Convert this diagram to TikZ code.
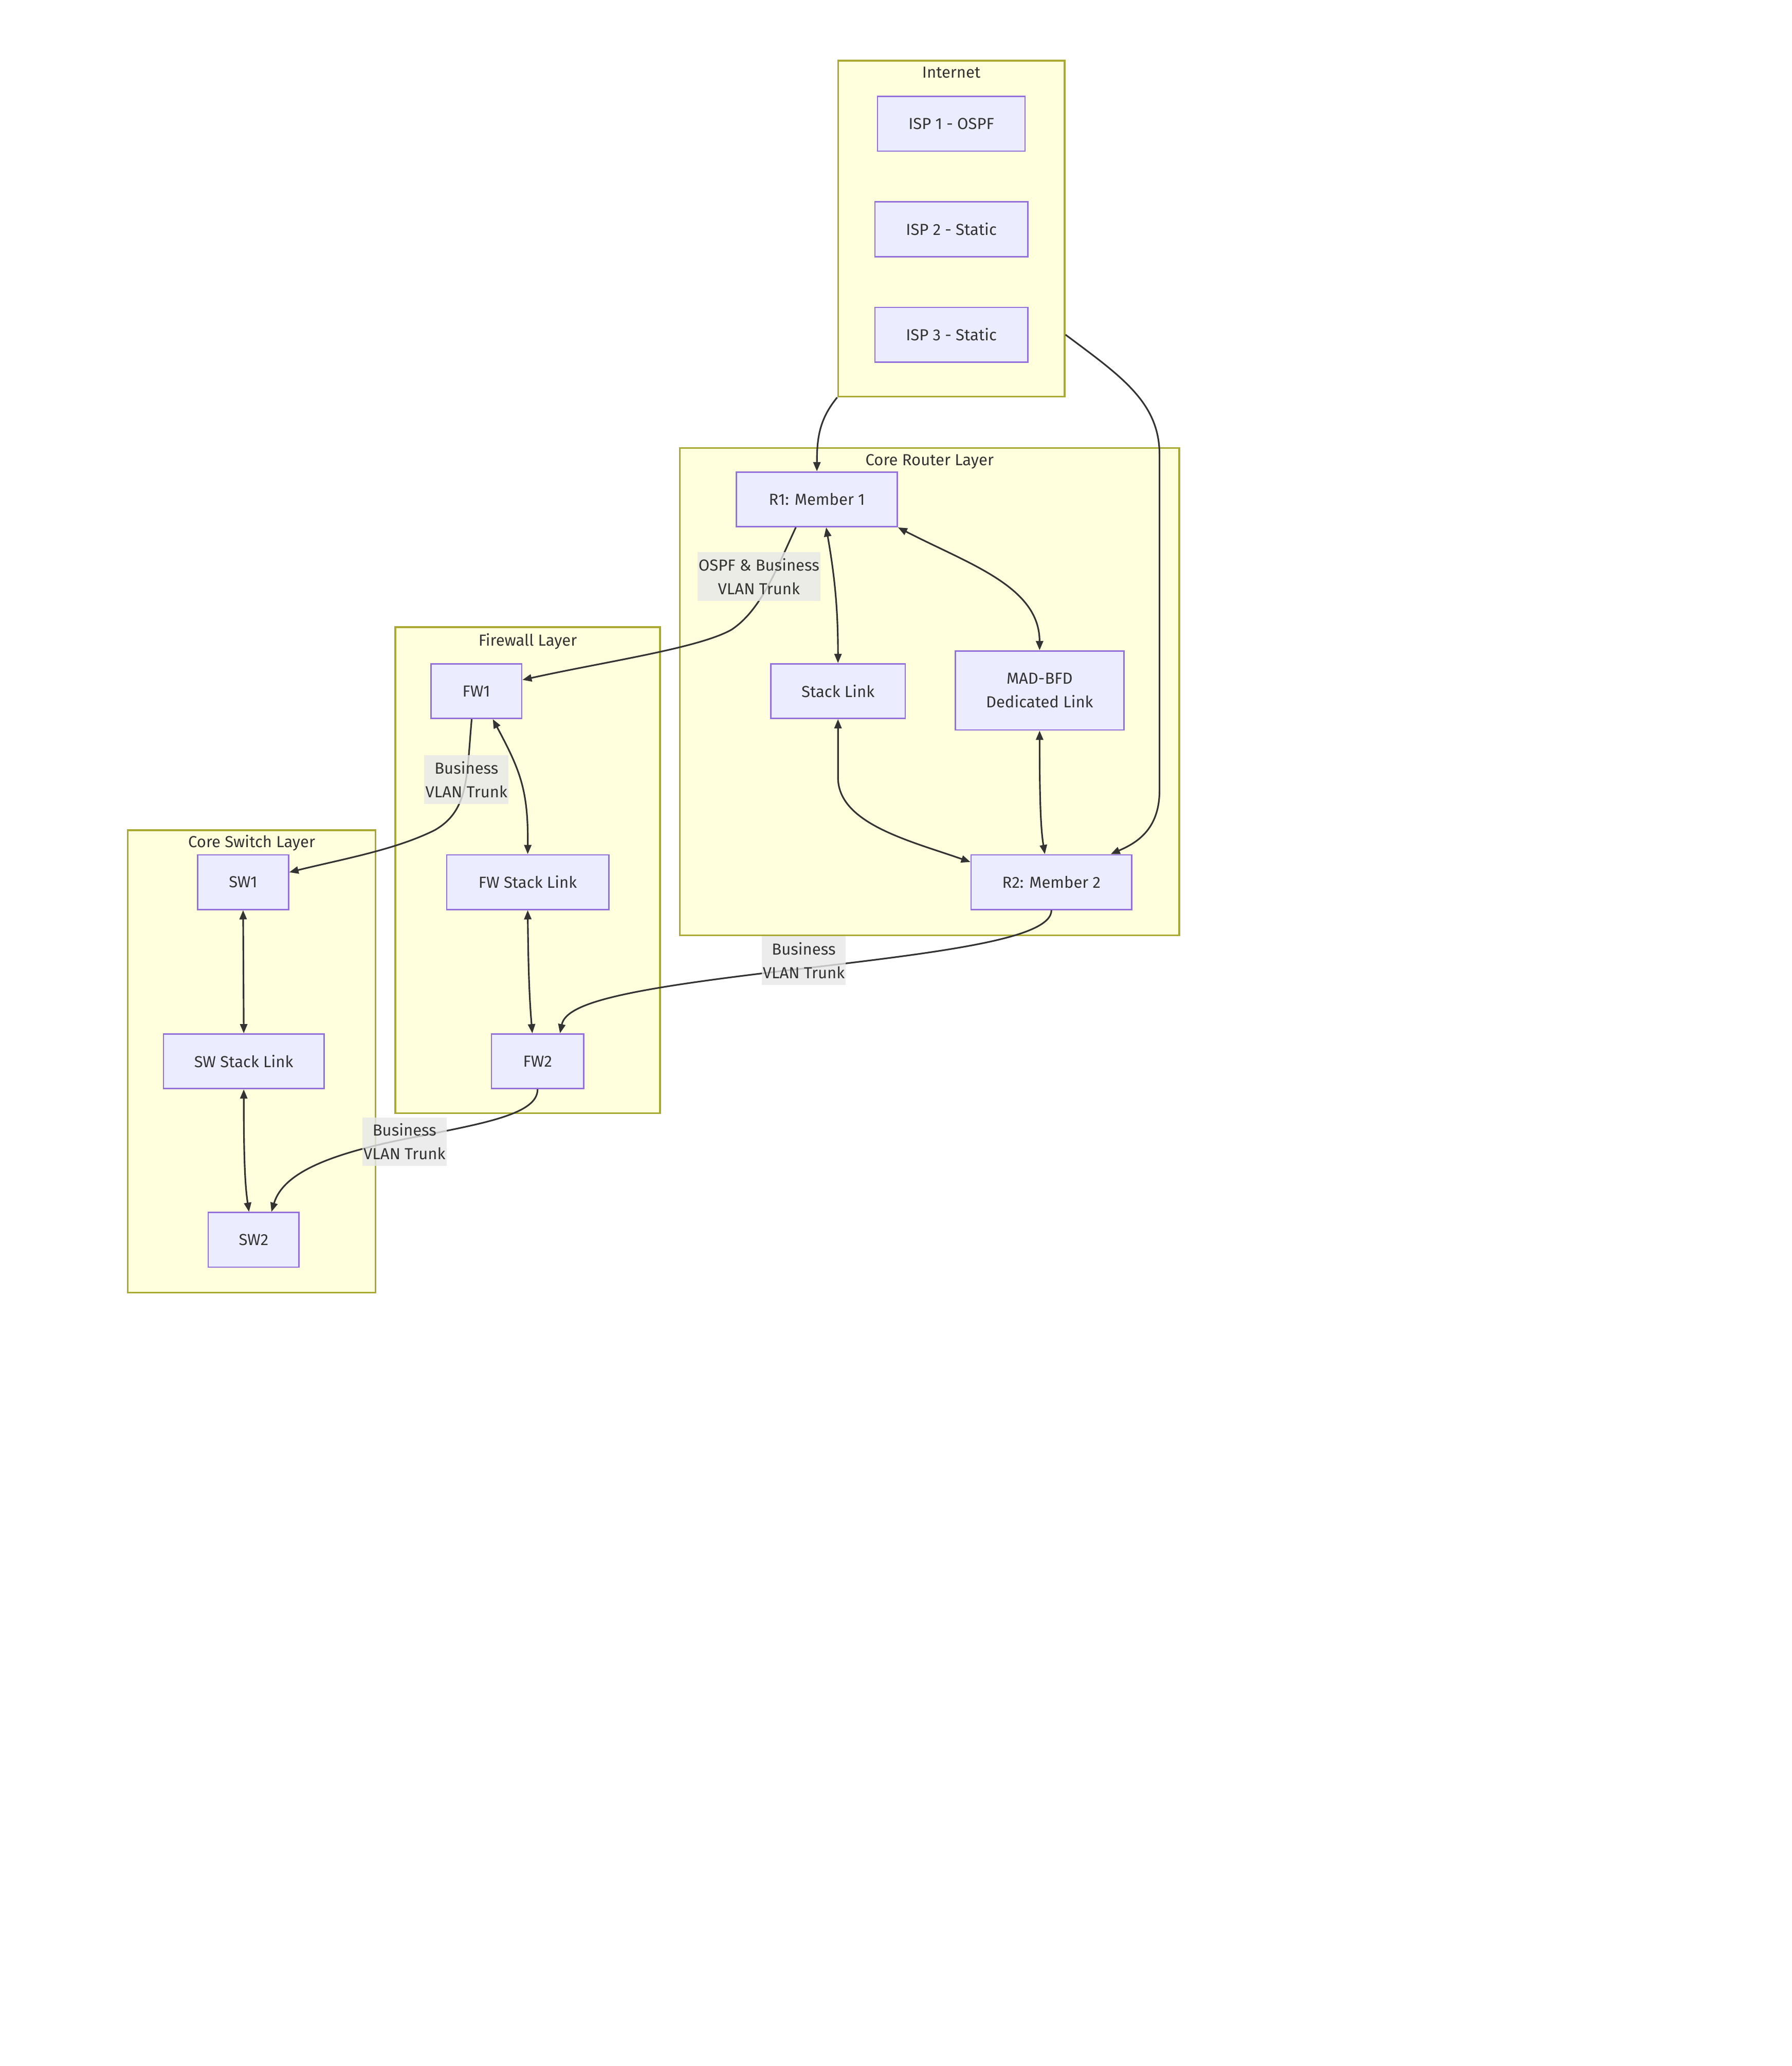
\documentclass[tikz,border=0pt]{standalone}
\usepackage{fontspec}
\setmainfont{Fira Sans}
\usetikzlibrary{positioning,arrows.meta}
\definecolor{clfill}{HTML}{FFFFDE}
\definecolor{cldraw}{HTML}{AAAA33}
\definecolor{ndfill}{HTML}{ECECFF}
\definecolor{nddraw}{HTML}{9370DB}
\definecolor{ink}{HTML}{333333}
\definecolor{lblbg}{HTML}{E8E8E8}

\begin{document}
\begin{tikzpicture}[x=0.02cm,y=-0.02cm,
font=\fontsize{6.9}{10.2}\selectfont,
>={Triangle[length=0.14cm,width=0.11cm]},
box/.style={rectangle,draw=nddraw,fill=ndfill,line width=0.6pt,text=ink,align=center,minimum height=0.83cm,inner sep=0pt},
cluster/.style={rectangle,draw=cldraw,fill=clfill,line width=0.75pt,inner sep=0pt},
ctitle/.style={text=ink,inner sep=0pt},
elabel/.style={fill=lblbg,fill opacity=0.8,text opacity=1,text=ink,align=center,inner xsep=0.5pt,inner ysep=0pt,minimum height=0.74cm},
arrow/.style={draw=ink,line width=0.7pt,->},
biarrow/.style={draw=ink,line width=0.7pt,<->}]
\useasboundingbox (0,0) rectangle (1360,1568);
\fill[white] (0,0) rectangle (1360,1568);

\node[cluster,minimum width=3.44cm,minimum height=5.1cm](inet) at (722,173.5){};
\node[cluster,minimum width=7.58cm,minimum height=7.4cm](core) at (705.5,525){};
\node[cluster,minimum width=4.02cm,minimum height=7.38cm](fwl) at (400.5,660.5){};
\node[cluster,minimum width=3.76cm,minimum height=7.02cm](swl) at (191,805.5){};
\node[ctitle,below=0.1cm of inet.north](inett){Internet};
\node[ctitle,below=0.1cm of core.north](coret){Core Router Layer};
\node[ctitle,below=0.1cm of fwl.north](fwlt){Firewall Layer};
\node[ctitle,below=0.08cm of swl.north](swlt){Core Switch Layer};

\node[box,minimum width=2.24cm](isp1) at (722,94){ISP 1 - OSPF};
\node[box,minimum width=2.32cm](isp2) at (722,174){ISP 2 - Static};
\node[box,minimum width=2.32cm](isp3) at (722,254){ISP 3 - Static};
\node[box,minimum width=2.44cm](r1) at (620,379){R1: Member 1};
\node[box,minimum width=2.04cm](stk) at (636,524.5){Stack Link};
\node[box,minimum width=2.56cm,minimum height=1.2cm](mad) at (789,524){MAD-BFD\\Dedicated Link};
\node[box,minimum width=2.44cm](r2) at (798,669.5){R2: Member 2};
\node[box,minimum width=1.38cm](fw1) at (361.5,524.5){FW1};
\node[box,minimum width=2.46cm](fwstk) at (400.5,669.5){FW Stack Link};
\node[box,minimum width=1.4cm](fw2) at (408,805.5){FW2};
\node[box,minimum width=1.38cm](sw1) at (184.5,669.5){SW1};
\node[box,minimum width=2.44cm](swstk) at (185,805.5){SW Stack Link};
\node[box,minimum width=1.38cm](sw2) at (192.5,941){SW2};

\draw[arrow](inet.south west) .. controls (622,318) and (620,332) .. (r1.north);
\draw[arrow]([yshift=-1.61cm]inet.east) .. controls (850,285) and (880,305) .. (880,345) -- (880,600) .. controls (880,630) and (862,640) .. ([xshift=0.9cm]r2.north);
\draw[arrow]([xshift=-0.32cm]r1.south) .. controls (590,430) and (578,463) .. (555,478) .. controls (530,492) and (460,502) .. ([yshift=0.17cm]fw1.east);
\draw[biarrow]([xshift=0.14cm]r1.south) .. controls (634,440) and (636,465) .. (stk.north);
\draw[biarrow](r1.south east) .. controls (735,428) and (789,445) .. (mad.north);
\draw[biarrow](stk.south) -- (636,590) .. controls (636,625) and (690,638) .. ([yshift=-0.12cm]r2.north west);
\draw[biarrow](mad.south) .. controls (789,610) and (790,630) .. ([xshift=-0.1cm]r2.north);
\draw[arrow](r2.south) .. controls (798,712) and (720,722) .. (610,735) .. controls (480,750) and (430,760) .. ([xshift=0.34cm]fw2.north);
\draw[arrow]([xshift=-0.07cm]fw1.south) .. controls (354,590) and (356,615) .. (330,630) .. controls (300,645) and (260,652) .. ([yshift=0.15cm]sw1.east);
\draw[biarrow]([xshift=0.25cm]fw1.south) .. controls (395,585) and (401,600) .. (fwstk.north);
\draw[biarrow](fwstk.south) .. controls (401,740) and (402,760) .. ([xshift=-0.08cm]fw2.north);
\draw[arrow](fw2.south) .. controls (408,845) and (370,852) .. (320,862) .. controls (250,875) and (215,890) .. ([xshift=0.27cm]sw2.north);
\draw[biarrow](sw1.south) -- (swstk.north);
\draw[biarrow](swstk.south) .. controls (185,880) and (186,900) .. ([xshift=-0.07cm]sw2.north);

\node[elabel](lr1fw) at (576,437.5){OSPF \& Business\\VLAN Trunk};
\node[elabel](lr2fw) at (610,729){Business\\VLAN Trunk};
\node[elabel](lfwsw) at (354,591.5){Business\\VLAN Trunk};
\node[elabel](lfwswb) at (307,866.5){Business\\VLAN Trunk};
\end{tikzpicture}
\end{document}
